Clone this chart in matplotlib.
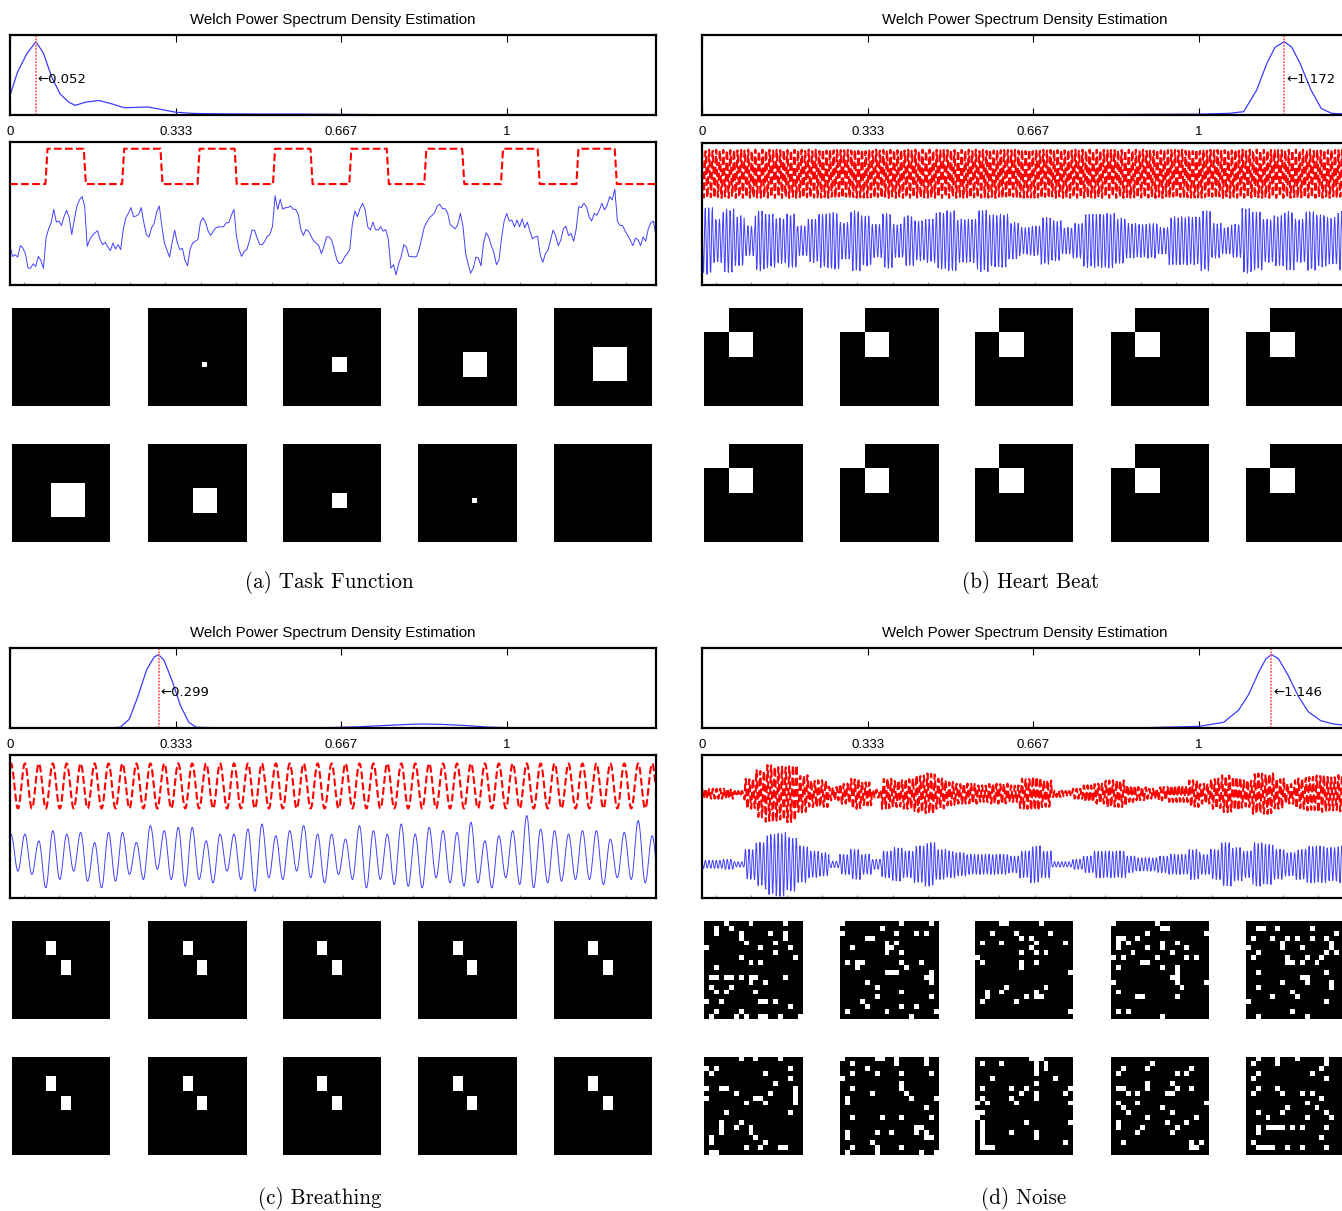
import numpy as np
import matplotlib
matplotlib.use("Agg")
import matplotlib.pyplot as plt

W, H = 1342, 1211          # output size, pixels
FS = 10.0                  # samples per second for the synthetic time courses
SCAN_SEC = 155.0           # length of every time course, seconds
GRID = 20                  # frames are 20 x 20 voxels

plt.rcParams["font.family"] = ["Liberation Sans", "DejaVu Sans"]

# ---------- Welch PSD estimates (frequency, power) ----------
task_psd_f = [0, 0.015, 0.033, 0.052, 0.067, 0.084, 0.101, 0.118, 0.131, 0.153, 0.179,
              0.204, 0.230, 0.256, 0.277, 0.299, 0.333, 0.367, 0.41, 0.5, 0.58, 0.67,
              0.75, 0.84, 0.93, 1.3]
task_psd_p = [0.24, 0.53, 0.75, 0.91, 0.77, 0.47, 0.26, 0.16, 0.12, 0.16, 0.18,
              0.14, 0.09, 0.095, 0.10, 0.075, 0.035, 0.02, 0.015, 0.012, 0.012, 0.008,
              0.004, 0.003, 0.002, 0.002]

heart_psd_f = [0, 0.5, 0.8, 0.9, 1.0, 1.06, 1.09, 1.116, 1.137, 1.153, 1.172, 1.187,
               1.204, 1.225, 1.246, 1.267, 1.3]
heart_psd_p = [0, 0, 0.004, 0.008, 0.01, 0.02, 0.04, 0.30, 0.63, 0.82, 0.89, 0.82,
               0.62, 0.31, 0.08, 0.02, 0.01]

breath_psd_f = [0, 0.2, 0.222, 0.24, 0.257, 0.275, 0.29, 0.299, 0.31, 0.327, 0.343,
                0.36, 0.375, 0.4, 0.6, 0.65, 0.7, 0.75, 0.8, 0.83, 0.87, 0.92, 0.96,
                1.0, 1.3]
breath_psd_p = [0, 0, 0.01, 0.11, 0.39, 0.73, 0.89, 0.92, 0.85, 0.58, 0.28,
                0.07, 0.01, 0.005, 0.003, 0.006, 0.015, 0.03, 0.045, 0.05, 0.045, 0.03,
                0.012, 0.004, 0.002]

noise_psd_f = [0, 0.85, 0.9, 1.0, 1.05, 1.08, 1.10, 1.12, 1.135, 1.146, 1.16, 1.18,
               1.20, 1.22, 1.245, 1.27, 1.3]
noise_psd_p = [0, 0, 0.005, 0.02, 0.07, 0.22, 0.41, 0.68, 0.85, 0.90, 0.85, 0.64,
               0.39, 0.20, 0.09, 0.05, 0.03]

peak_freqs = [0.052, 1.172, 0.299, 1.146]
psd_ticks = [0, 1 / 3, 2 / 3, 1]
psd_tick_labels = ["0", "0.333", "0.667", "1"]

# ---------- (a) task function ----------
block_on = [8.5, 26.9, 45.0, 63.1, 81.4, 99.4, 117.8, 135.9]
block_off = [17.7, 36.1, 53.9, 72.1, 90.4, 108.5, 126.6, 145.1]
task_bold = [
    100, 70, 75, 68, 102, 95, 78, 35, 35, 48, 40, 70, 58, 35, 125, 152, 170, 210, 172, 175,
    162, 188, 207, 185, 135, 180, 220, 238, 248, 220, 100, 120, 132, 140, 146, 120, 105, 112, 98, 87,
    110, 92, 105, 90, 150, 185, 198, 215, 188, 190, 195, 215, 170, 135, 127, 155, 168, 202, 220, 160,
    110, 88, 68, 112, 148, 110, 90, 94, 58, 42, 92, 110, 115, 120, 172, 185, 170, 145, 132, 145,
    155, 158, 158, 158, 170, 170, 192, 210, 130, 90, 70, 85, 90, 115, 148, 148, 125, 105, 105, 115,
    130, 135, 160, 250, 210, 240, 210, 215, 215, 220, 210, 210, 195, 150, 132, 150, 145, 130, 115, 110,
    102, 78, 100, 128, 128, 118, 90, 60, 48, 52, 68, 78, 90, 165, 205, 188, 212, 228, 208, 158,
    148, 172, 150, 148, 158, 145, 150, 120, 35, 45, 15, 48, 70, 105, 98, 70, 70, 68, 70, 92,
    125, 158, 172, 185, 192, 200, 220, 225, 212, 212, 200, 165, 158, 152, 165, 198, 160, 80, 48, 20,
    35, 68, 65, 42, 110, 140, 128, 102, 82, 45, 60, 125, 175, 198, 175, 178, 158, 178, 158, 182,
    155, 172, 145, 122, 128, 130, 75, 52, 78, 88, 118, 148, 132, 102, 118, 152, 160, 132, 138, 115,
    152, 218, 215, 228, 217, 188, 175, 198, 192, 208, 228, 208, 222, 248, 238, 270, 175, 162, 162, 145,
    133, 118, 102, 124, 120, 102, 128, 115, 152, 170, 175, 130,
]
task_sizes = [0, 1, 3, 5, 7, 7, 5, 3, 1, 0]

# ---------- (b) heart beat ----------
heart_ref_amp = 0.72
heart_env = [
    1.00, 0.65, 0.95, 0.75, 0.45, 0.90, 0.80, 0.68, 0.80, 0.45, 0.65, 0.80, 0.85, 0.55, 0.90, 0.75,
    0.50, 0.82, 0.50, 0.75, 0.60, 0.65, 0.85, 0.90, 0.65, 0.65, 0.92, 0.78, 0.80, 0.55, 0.40, 0.45,
    0.70, 0.60, 0.40, 0.52, 0.80, 0.80, 0.82, 0.68, 0.52, 0.50, 0.52, 0.40, 0.72, 0.72, 0.72, 0.90,
    0.52, 0.40, 0.50, 0.97, 0.87, 0.65, 0.75, 0.88, 0.65, 0.88, 0.78, 0.70, 0.88,
]
heart_blocks = [(0, 0, 5, 5), (5, 5, 5, 5)]

# ---------- (c) breathing ----------
breath_ref_amp = 67
breath_peak = [
    190, 190, 170, 200, 190, 195, 165, 195, 195, 165, 215, 200, 210, 210, 170, 190, 190, 205, 220, 185,
    200, 215, 190, 190, 175, 215, 200, 190, 220, 190, 210, 200, 195, 225, 170, 185, 200, 245, 205, 200,
    190, 200, 200, 175, 195, 230, 185,
]
breath_trough = [
    80, 70, 30, 55, 80, 50, 30, 50, 70, 55, 85, 55, 35, 55, 45, 80, 55, 20, 60, 55,
    80, 60, 45, 70, 55, 30, 55, 40, 35, 30, 60, 45, 35, 45, 30, 60, 40, 30, 45, 50,
    55, 55, 40, 60, 55, 45, 50,
]
breath_blocks = [(4, 7, 3, 2), (8, 10, 3, 2)]

# ---------- (d) noise ----------
noise_ref_env = [
    0.15, 0.15, 0.15, 0.08, 0.45, 0.70, 0.85, 0.80, 0.85, 0.55, 0.40, 0.40, 0.20, 0.30, 0.45, 0.35,
    0.12, 0.45, 0.40, 0.45, 0.55, 0.60, 0.45, 0.35, 0.30, 0.30, 0.25, 0.30, 0.30, 0.25, 0.45, 0.50,
    0.40, 0.10, 0.08, 0.15, 0.25, 0.30, 0.40, 0.40, 0.25, 0.20, 0.15, 0.20, 0.25, 0.25, 0.40, 0.30,
    0.45, 0.55, 0.50, 0.40, 0.60, 0.60, 0.45, 0.30, 0.45, 0.50, 0.55, 0.50, 0.55,
]
noise_env = [
    0.12, 0.12, 0.15, 0.08, 0.45, 0.65, 0.90, 0.95, 0.80, 0.55, 0.40, 0.35, 0.10, 0.30, 0.45, 0.30,
    0.15, 0.40, 0.50, 0.40, 0.55, 0.65, 0.45, 0.40, 0.35, 0.30, 0.30, 0.30, 0.30, 0.25, 0.40, 0.55,
    0.40, 0.08, 0.08, 0.15, 0.25, 0.40, 0.40, 0.40, 0.25, 0.20, 0.20, 0.25, 0.30, 0.30, 0.45, 0.30,
    0.45, 0.65, 0.50, 0.40, 0.65, 0.60, 0.45, 0.35, 0.45, 0.55, 0.55, 0.50, 0.55,
]
noise_frames = [
    ["....# ....# ..... .#...", "..#.. #.... ..... .....", "..#.. ..#.. ...#. .#...",
     "..... ..#.. ..... .#...", "..... ...#. ....# .....", "#.... ..... .#... ..#..",
     "..... ..... ....# .....", "..... ..#.. ..... ...#.", "..... ....# .#... .....",
     "..#.. ..... ..... .....", "..... ..... ..... .....", ".##.# #.#.# #.... .#...",
     "..... ....# ..#.. .....", ".#... #.... ..... .....", "..#.# ..... #.... .....",
     "..... ..... ..... .....", "#..#. ..... .##.# .....", "..... ..... ..... ..#..",
     "..#.. ..#.. ..... .....", ".#... .#.#. .##.. #...#"],
    ["#.... ..... ..#.. ...#.", "..... ...#. ..... .....", "#.... ..... .#... #.#..",
     "..... ##... ..... .....", "..... ....# .#... .....", "..#.. ....# #.... .....",
     "..... ....# ..#.. .....", "..... ..... ..... .....", ".#.## ..... ..#.. .#...",
     "...#. ..... ...#. .....", "..... ....# ##... ...#.", "..... ..... ..... ..##.",
     "..... #.... ..... ...#.", "..... ..#.. ..... .....", "..... ..... ..#.. .....",
     "..... ..#.. ..... ...#.", "....# ..... ..... .....", "..... #.... ..#.. #....",
     ".#... ....# ..... ....#", "..... ..... ....# ....."],
    ["..... ##... ...#. .....", "..... ..... ..... .....", "...#. ...#. ..... #....",
     "..... ....# .#... .....", ".#... #.... ..#.. ...#.", "..... ..... .#... .....",
     "..... ....# ..#.# .....", "#.... ..... ..... .....", ".#... ....# ..#.. .....",
     "..... ....# ..... .....", "..... ..... ..... ....#", "..... ..... ..... .....",
     "..... ..... ..... .....", "..... .#... ....# .....", "..#.. #.... ..#.. .....",
     "..#.. ..... #.##. .....", ".#... ...#. ..... .....", "..... ..... ..... .....",
     "..... ..... ..... ....#", "..... ..... ..... ....."],
    ["#.... ....# ..... .....", "..... ..... ##... .....", "..... ..#.. ..... ....#",
     ".##.. #.... ..... .....", ".#.#. ..... #..#. .....", ".#... ..#.. #.... #....",
     "....# ..... ..#.. .....", "#.#.. ....# ..... #.#..", "..... .##.. ..... .....",
     ".#... ..... #..#. .....", "..... ..... ...#. .....", "..... ..... ..##. .....",
     "#.... ..... ...#. ....#", "..... ..... ....# .....", ".#... ..... ..... .....",
     "..... ##... ...#. .....", "..... ..... ..... .....", "..... ..... ..... .....",
     ".#.#. ..... ..... .....", "..... ..... #.... ....."],
    ["..... ..... ..... .....", "..##. .#... ...#. .....", "..... ..... ..... ...#.",
     ".#... #..#. #..#. .#...", "..... ..#.. ..... ..#..", "#.... ..#.. .#... ..#..",
     "..#.. ..... ..... .#.#.", ".#... ...#. ..#.. #....", "..... ...## .#..# .....",
     "..... ..... ..... .....", "..#.. ..... ..... .#...", "..... ..... .##.. .....",
     "..... ..#.. ..#.. ..#..", "..#.. ..... ..... ..#..", "..... ....# ..... .....",
     "..... #.... #.... .....", "#.... ..... ..... .#...", "..... ..... ..... .....",
     "..... ....# ..... .....", "..#.. ..... ..#.. ....."],
    ["..... ..#.. #.... #....", "..... ..... ..... .....", "#.#.. ..... ..... ..#..",
     ".#... ..... ..#.. .....", "..... ..... ..... ..#..", "..... ..... ....# .....",
     "#..## ..... ..... ...#.", "..... .#... ...#. ...#.", "#.... ..... ##... ...#.",
     "..... ...#. ..#.. ...#.", "..... ..... ..... .....", "....# ..... ..... ..#..",
     "..... ..... ..... .....", "...#. ..#.. ..... .....", "...#. .#..# ..... .....",
     "...#. ....# ..... .....", ".#... ..... #.... .....", ".#... ..... ..#.. .....",
     "..... ...#. .#... ##...", ".##.. ..... ..... ....."],
    ["#.... ..##. .#... ..#..", "..#.. ..... .#... ..#..", "..... #.... ..... .....",
     "..#.. ..#.. ..#.. ...#.", "#.... ..... ..... .....", "..... ..... ..#.. .....",
     "..#.. ..... ..#.. .....", "..... .#... ...#. .....", ".#... ..... ....# ....#",
     ".#... ..... ..... .....", "..... ..... ..... ..#..", "..... ..... ..... .....",
     "..#.. ...#. ..#.. ...#.", "..... ..... ..... .....", "..... ..... ..... ##...",
     ".#... ..#.. #.... #.#..", ".#... ..... ..... ..##.", "..... .#... ..... .....",
     "..#.. ..#.. ..#.. .....", ".#... ..#.. ..... .#..#"],
    ["..... ..... .###. .....", ".#... #.... ..#.# .....", "..... ..... ..#.# .....",
     "..... ..... ..#.. .....", "...#. ..... ..... .#...", "..... ..... ..#.. .....",
     ".#... ..#.. #.... ....#", "..... ....# ..#.. ...#.", ".#... ..#.. ..#.. .....",
     "#.#.. ...#. ..... ....#", "..... ..... ..... .....", "##... ..... ..... .....",
     "#.... ..... ..... .....", ".#... ..... #.... ....#", ".#... ..... ..... .....",
     ".#... ..#.. ..#.. .....", ".#... ..... ..#.. .....", ".#... ..... ..... ...#.",
     ".###. ..... ..... .....", "..... ..... ..... ....."],
    ["..... ..... ..... .....", "..... ...#. ..... .....", "..#.. ..#.. ..... .#...",
     ".#... ..... ...#. #....", "..... ..... ..... .....", "..... ..#.. ..#.. .....",
     ".##.. ..#.. ...#. .#...", "...#. #.... .##.. .....", "..... ..... ..... .....",
     ".#... #.... ..... ....#", "..#.. ..... #.... .....", "...#. ..... ..#.. .....",
     "..... ..#.. ..... ..#..", ".#... ..... .#... #....", ".#... .#... ...#. .....",
     "..... #.... ..#.. .....", "..... ..... ..... .....", "..#.. ..... ..... .#.#.",
     "..... ..... ..... .##..", "..... ..... ..... ....."],
    ["..#.. .#... #.... .#...", ".#... .#... ..... .#...", "..... ..... ..... #....",
     "..#.. ..... ...#. .....", ".#... ..... ..... .#...", "..... ..... ..... .....",
     "..#.. .#... ..... .....", ".#... ..#.. .#.#. .....", "..... ..... ..... #....",
     "..... ..... ..#.. .....", "..... ...#. ....# .....", "..#.. ..#.. ..... .#...",
     "....# ..... ..#.. ..#..", "..... ..... ..... .....", "..#.# ###.# .#... .#...",
     "..#.. ..... ..... .....", "..... ..... ..... #....", ".#... ..... ..... .....",
     "..### #..#. .#... .#...", "..... ..... ..... ....."],
]

CAPTIONS = ["(a) Task Function", "(b) Heart Beat", "(c) Breathing", "(d) Noise"]


def px_axes(fig, x0, y0, x1, y1):
    """Axes placed by pixel box (top-left origin)."""
    return fig.add_axes([x0 / W, 1 - y1 / H, (x1 - x0) / W, (y1 - y0) / H])


def block_frame(blocks):
    img = np.zeros((GRID, GRID))
    for r, c, h, w in blocks:
        img[r:r + h, c:c + w] = 1
    return img


def text_frame(rows):
    img = np.zeros((GRID, GRID))
    for r, row in enumerate(rows):
        row = row.replace(" ", "")
        for c, ch in enumerate(row[:GRID]):
            img[r, c] = ch == "#"
    return img


def held(env, t):
    """Step-hold an envelope over the scan."""
    env = np.asarray(env, dtype=float)
    idx = np.minimum((t / SCAN_SEC * len(env)).astype(int), len(env) - 1)
    return env[idx]


def swing(times, levels, t):
    """Half-cosine segments through successive extremes."""
    times = np.asarray(times, dtype=float)
    levels = np.asarray(levels, dtype=float)
    i = np.clip(np.searchsorted(times, t) - 1, 0, len(times) - 2)
    u = np.clip((t - times[i]) / (times[i + 1] - times[i]), 0, 1)
    return levels[i] + (levels[i + 1] - levels[i]) * (1 - np.cos(np.pi * u)) / 2


def style_signal_axes(ax, ylim):
    ax.set_xlim(0, SCAN_SEC)
    ax.set_ylim(*ylim)
    ax.set_yticks([])
    ax.set_xticks(np.arange(3.3, SCAN_SEC, 8.5))
    ax.set_xticklabels([])
    ax.tick_params(axis="x", direction="in", length=2.5, width=0.6, color="#777777")
    for s in ax.spines.values():
        s.set_linewidth(1.6)


def draw_psd(ax, f, p, peak):
    ax.plot(f, p, color="#3b3bff", lw=0.9)
    top = max(p) * 1.09
    ax.axvline(peak, color="#ff5a5a", ls=(0, (1, 0.8)), lw=1.3)
    ax.text(peak + 0.003, top * 0.44, "\u2190" + f"{peak:.3f}", fontsize=9.5,
            family=["DejaVu Sans"], ha="left", va="center")
    ax.set_xlim(0, 1.3)
    ax.set_ylim(0, top)
    ax.set_yticks([])
    ax.set_xticks(psd_ticks)
    ax.set_xticklabels(psd_tick_labels, fontsize=9.5)
    ax.tick_params(axis="x", direction="in", top=True, length=5, width=0.8, pad=8)
    for s in ax.spines.values():
        s.set_linewidth(1.6)
    ax.set_title("Welch Power Spectrum Density Estimation", fontsize=10.8, pad=8)


def draw_frames(fig, x0, y0, frames):
    for k, img in enumerate(frames):
        col, row = k % 5, k // 5
        left = x0 + 2 + col * 135.5
        top = y0 + 308 + row * 136
        ax = px_axes(fig, left, top, left + 98, top + 98)
        ax.imshow(img, cmap="gray", vmin=0, vmax=1, interpolation="nearest", aspect="auto")
        ax.axis("off")


def main():
    fig = plt.figure(figsize=(W / 100, H / 100), dpi=100)
    t = np.arange(0, SCAN_SEC, 1 / FS)

    origins = [(10, 0), (702, 0), (10, 613), (702, 613)]
    psd = [(task_psd_f, task_psd_p), (heart_psd_f, heart_psd_p),
           (breath_psd_f, breath_psd_p), (noise_psd_f, noise_psd_p)]
    caption_x = [329, 1031, 320, 1024]
    caption_y = [583, 583, 1199, 1199]

    for k, (x0, y0) in enumerate(origins):
        ax = px_axes(fig, x0, y0 + 35, x0 + 646, y0 + 115)
        draw_psd(ax, psd[k][0], psd[k][1], peak_freqs[k])
        fig.text(caption_x[k] / W, 1 - caption_y[k] / H, CAPTIONS[k], family="cmr10",
                 fontsize=15.2, ha="center", va="center")

    red = dict(color="#ff0000", lw=1.5, ls="--")
    blue = dict(color="#2020ff", lw=0.7, alpha=0.85)

    # (a) task: boxcar reference and voxel time course
    ax = px_axes(fig, 10, 142, 656, 285)
    bx = [0.0]
    by = [0.0]
    for on, off in zip(block_on, block_off):
        bx += [on, on + 0.5, off, off + 0.5]
        by += [0, 1, 1, 0]
    bx.append(SCAN_SEC)
    by.append(0)
    ax.plot(bx, 285 + 105 * np.array(by), **red)
    ax.plot(np.linspace(0, SCAN_SEC, len(task_bold)), task_bold, **blue)
    style_signal_axes(ax, (-15, 410))
    frames = []
    for s in task_sizes:
        h = s // 2
        frames.append(block_frame([(11 - h, 11 - h, s, s)] if s else []))
    draw_frames(fig, 10, 0, frames)

    # (b) heart beat
    ax = px_axes(fig, 702, 143, 1348, 285)
    f = peak_freqs[1]
    ax.plot(t, 3.32 + heart_ref_amp * np.cos(2 * np.pi * f * t), **red)
    ax.plot(t, 1.32 + held(heart_env, t) * np.cos(2 * np.pi * f * t + 0.6), **blue)
    style_signal_axes(ax, (0, 4.24))
    draw_frames(fig, 702, 0, [block_frame(heart_blocks)] * 10)

    # (c) breathing
    ax = px_axes(fig, 10, 755, 656, 898)
    f = peak_freqs[2]
    ax.plot(t, 333 + breath_ref_amp * np.cos(2 * np.pi * (f * t - 0.07)), **red)
    k = np.arange(len(breath_peak))
    ext_t = np.ravel(np.column_stack([(k + 0.07) / f, (k + 0.57) / f]))
    ext_v = np.ravel(np.column_stack([breath_peak, breath_trough]))
    ax.plot(t, swing(ext_t, ext_v, t), **blue)
    style_signal_axes(ax, (0, 425))
    draw_frames(fig, 10, 613, [block_frame(breath_blocks)] * 10)

    # (d) noise
    ax = px_axes(fig, 702, 755, 1348, 898)
    f = peak_freqs[3]
    ax.plot(t, 3.10 + held(noise_ref_env, t) * np.cos(2 * np.pi * f * t), **red)
    ax.plot(t, 1.00 + held(noise_env, t) * np.cos(2 * np.pi * f * t + 0.4), **blue)
    style_signal_axes(ax, (0, 4.25))
    draw_frames(fig, 702, 613, [text_frame(g) for g in noise_frames])

    fig.savefig("out.png", dpi=100)


if __name__ == "__main__":
    main()
